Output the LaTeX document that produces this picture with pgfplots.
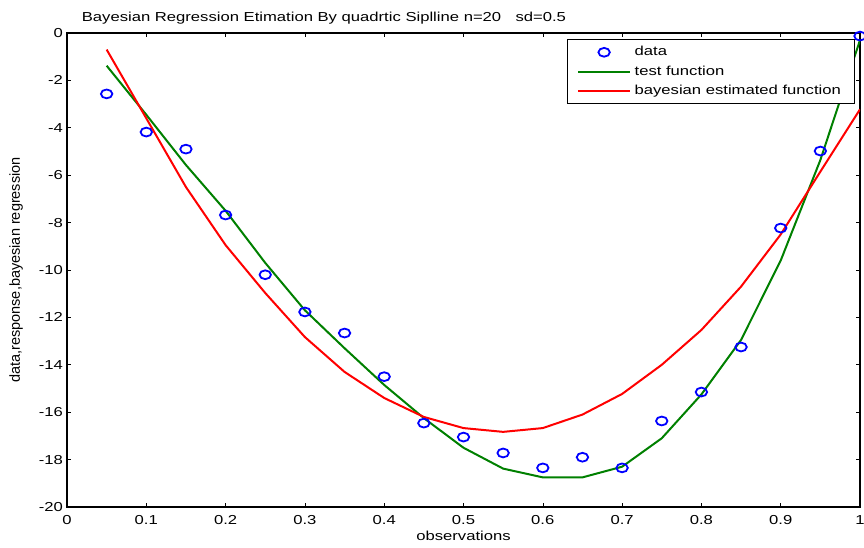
\documentclass[border=0pt]{standalone}
\usepackage{fontspec}
\setmainfont[FakeStretch=1.28]{Liberation Sans}
\newfontfamily\ylfont{Liberation Sans}
\usepackage{pgfplots}
\pgfplotsset{compat=1.18}

\definecolor{mlgreen}{RGB}{0,128,0}

\pgfplotstableread{
x y
0.05 -2.57
0.10 -4.18
0.15 -4.90
0.20 -7.68
0.25 -10.20
0.30 -11.77
0.35 -12.66
0.40 -14.50
0.45 -16.46
0.50 -17.05
0.55 -17.72
0.60 -18.35
0.65 -17.90
0.70 -18.35
0.75 -16.37
0.80 -15.15
0.85 -13.25
0.90 -8.23
0.95 -4.98
1.00 -0.13
}\obsdata

\pgfplotstableread{
x y
0.05 -1.38
0.10 -3.45
0.15 -5.57
0.20 -7.50
0.25 -9.70
0.30 -11.70
0.35 -13.30
0.40 -14.85
0.45 -16.25
0.50 -17.50
0.55 -18.38
0.60 -18.75
0.65 -18.75
0.70 -18.30
0.75 -17.10
0.80 -15.25
0.85 -12.95
0.90 -9.60
0.95 -5.36
1.00 -0.30
}\testfun

\pgfplotstableread{
x y
0.05 -0.70
0.10 -3.60
0.15 -6.50
0.20 -8.95
0.25 -10.97
0.30 -12.83
0.35 -14.30
0.40 -15.40
0.45 -16.20
0.50 -16.67
0.55 -16.83
0.60 -16.67
0.65 -16.10
0.70 -15.23
0.75 -14.00
0.80 -12.53
0.85 -10.70
0.90 -8.50
0.95 -5.85
1.00 -3.22
}\bayesfun

\begin{document}
\fontsize{13bp}{15bp}\selectfont
\begin{tikzpicture}
\useasboundingbox (-67bp,-41bp) rectangle (797bp,507bp);
\begin{axis}[
    scale only axis,
    width=793bp, height=474bp,
    xmin=0, xmax=1, ymin=-20, ymax=0,
    xtick={0,0.1,...,1}, ytick={-20,-18,...,0},
    tick align=inside,
    major tick length=4bp,
    tick style={black, line width=0.6bp},
    axis line style={line width=1.6bp},
    /pgf/number format/assume math mode=true,
    /pgf/number format/fixed,
    ticklabel style={font=\fontsize{13bp}{15bp}\selectfont},
    xticklabel style={inner sep=0pt, anchor=north, yshift=-8bp},
    yticklabel style={inner sep=0pt, anchor=east, xshift=-4bp},
    title={Bayesian Regression Etimation By quadrtic Siplline n=20\hspace{1.1em}sd=0.5},
    title style={at={(axis description cs:0.324,1)}, anchor=south, inner sep=0pt, yshift=3bp, font=\fontsize{13bp}{15bp}\selectfont},
    xlabel={observations},
    xlabel style={at={(axis description cs:0.5,-0.0506)}, anchor=north, inner sep=0pt, font=\fontsize{13bp}{15bp}\selectfont},
    ylabel={data,response,bayesian regression},
    ylabel style={at={(axis description cs:-0.0555,0.5)}, anchor=south, inner sep=0pt, rotate=0, font=\ylfont\fontsize{14.5bp}{16bp}\selectfont},
    legend cell align=left,
    legend image code/.code={\draw[mark repeat=2,mark phase=2,#1] plot coordinates {(0bp,0bp) (26bp,0bp) (52bp,0bp)};},
    legend style={at={(axis description cs:1,1)}, anchor=north east, xshift=-5bp, yshift=-6bp,
        draw=black, line width=1.2bp, inner xsep=10bp, inner ysep=3bp,
        font=\fontsize{13bp}{15bp}\selectfont,
        nodes={inner xsep=3.5bp, inner ysep=3.2bp, text height=10bp, text depth=3bp}},
]
\addplot[only marks, mark=o, blue, line width=1.8bp, mark size=4.4bp, mark options={xscale=1.3}] table {\obsdata};
\addlegendentry{data}
\addplot[mlgreen, line width=2bp] table {\testfun};
\addlegendentry{test function}
\addplot[red, line width=2bp] table {\bayesfun};
\addlegendentry{bayesian estimated function}
\end{axis}
\end{tikzpicture}
\end{document}
